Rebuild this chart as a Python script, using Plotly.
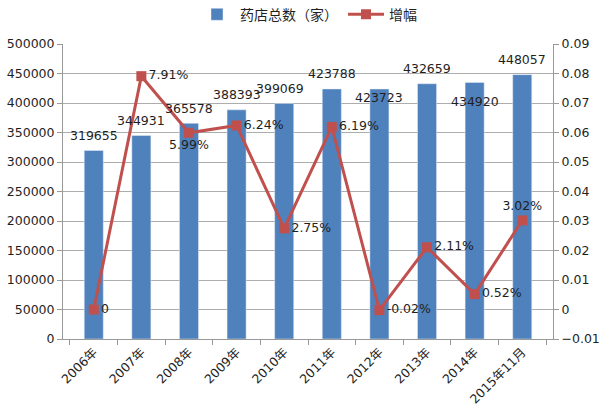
import plotly.graph_objects as go

categories = ["2006年", "2007年", "2008年", "2009年", "2010年", "2011年",
              "2012年", "2013年", "2014年", "2015年11月"]
store_counts = [319655, 344931, 365578, 388393, 399069, 423788,
                423723, 432659, 434920, 448057]
growth = [0, 0.0791, 0.0599, 0.0624, 0.0275, 0.0619,
          -0.0002, 0.0211, 0.0052, 0.0302]
growth_labels = ["0", "7.91%", "5.99%", "6.24%", "2.75%", "6.19%",
                 "-0.02%", "2.11%", "0.52%", "3.02%"]

font = "DejaVu Sans, Noto Sans CJK SC"
blue = "#4F81BD"
red = "#C0504D"
grid = "#ADADAD"
txt = "#1F1F1F"

fig = go.Figure()

fig.add_trace(go.Bar(
    x=categories, y=store_counts, name="药店总数（家）",
    marker=dict(color=blue), width=0.4,
))

# label positions roughly like the original
pos = ["middle right"] * len(growth)
pos[2] = "bottom center"
pos[9] = "top center"
fig.add_trace(go.Scatter(
    x=categories, y=growth, name="增幅", yaxis="y2",
    mode="lines+markers+text",
    line=dict(color=red, width=3),
    marker=dict(symbol="square", size=10, color=red),
    text=growth_labels, textposition=pos,
    textfont=dict(size=12.5, color=txt), cliponaxis=False,
))

# bar value labels; a couple sit inside the bar to avoid overlapping
shifts = [15, 15, 15, 15, 15, 15, -8, 15, -19, 15]
xshifts = [0, 0, 0, 0, -4, 0, 0, 0, 0, 0]
for c, v, dy, dx in zip(categories, store_counts, shifts, xshifts):
    fig.add_annotation(x=c, y=v, text=str(v), showarrow=False,
                       yshift=dy, xshift=dx, yanchor="middle",
                       font=dict(size=12.5, color=txt))

fig.update_layout(
    width=600, height=420,
    margin=dict(l=63, r=47, t=44, b=81, autoexpand=False),
    paper_bgcolor="white", plot_bgcolor="white",
    font=dict(family=font, size=12.5, color=txt),
    showlegend=True,
    legend=dict(orientation="h", x=0.5, xanchor="center", y=0.965, yanchor="middle",
                yref="container", font=dict(size=14), traceorder="normal",
                itemwidth=36),
    bargap=0.6,
    xaxis=dict(tickangle=-45, showline=True, linecolor="#999999", automargin=False,
               ticks="outside", tickson="boundaries", ticklen=5, tickcolor="#999999",
               tickfont=dict(size=12.5)),
    yaxis=dict(range=[0, 500000], dtick=50000, showgrid=True, gridcolor=grid,
               showline=True, linecolor="#999999", ticks="outside", ticklen=5,
               tickcolor="#999999", tickformat="d", zeroline=False, automargin=False,
               tickfont=dict(size=12.5)),
    yaxis2=dict(range=[-0.01, 0.09], dtick=0.01, overlaying="y", side="right",
                showgrid=False, showline=True, linecolor="#999999", automargin=False,
                ticks="outside", ticklen=5, tickcolor="#999999", zeroline=False,
                tickformat=".2~f", tickfont=dict(size=12.5)),
)

# page body margin would push the 600px figure past the window edge
fig.write_html("out.html", config={"displayModeBar": False},
               post_script="document.body.style.margin='0';")
